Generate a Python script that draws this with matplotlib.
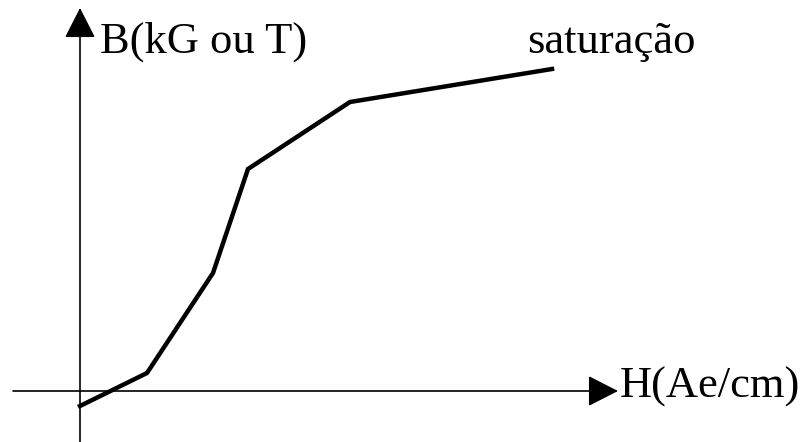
import matplotlib
matplotlib.use("Agg")
import matplotlib.pyplot as plt

# Magnetisation curve B(H) (schematic units)
H_vals = [0, 67, 133, 168, 270, 472]
B_vals = [-15, 18, 118, 222, 289, 322]

x_label = "H(Ae/cm)"
y_label = "B(kG ou T)"
sat_label = "saturação"

fig = plt.figure(figsize=(8.05, 4.42), dpi=100)
ax = fig.add_axes([0, 0, 1, 1])
ax.set_xlim(-80, 725)
ax.set_ylim(-51, 391)
ax.axis("off")

arrow_kw = dict(arrowstyle="-|>,head_length=19,head_width=9.7", lw=1.2,
                color="black", shrinkA=0, shrinkB=0, mutation_scale=1)
# horizontal axis
ax.annotate("", xy=(538, 0), xytext=(-67, 0), arrowprops=arrow_kw)
# vertical axis
ax.annotate("", xy=(0, 383), xytext=(0, -51), arrowprops=arrow_kw)

ax.plot(H_vals, B_vals, color="black", lw=3.2, solid_joinstyle="miter")

font = dict(family="Liberation Serif", size=32, color="black")
ax.text(20, 338, y_label, ha="left", va="baseline", **font)
ax.text(447, 338, sat_label, ha="left", va="baseline", **font)
ax.text(540, -7, x_label, ha="left", va="baseline", **font)

fig.savefig("out.png", dpi=100)
